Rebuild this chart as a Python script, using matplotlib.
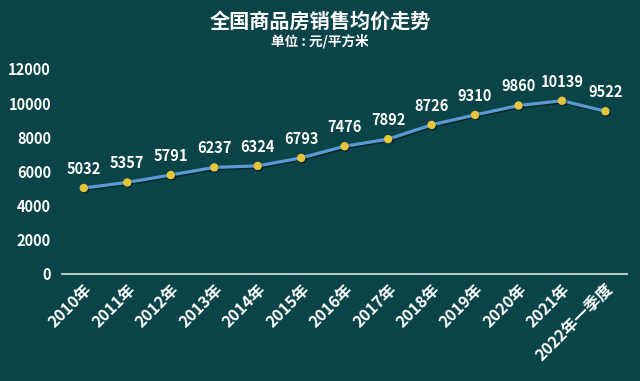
import matplotlib.pyplot as plt
import matplotlib.patheffects as pe

plt.rcParams['font.family'] = ['Noto Sans CJK SC', 'DejaVu Sans']

# data
years = ['2010年', '2011年', '2012年', '2013年', '2014年', '2015年', '2016年',
         '2017年', '2018年', '2019年', '2020年', '2021年', '2022年一季度']
prices = [5032, 5357, 5791, 6237, 6324, 6793, 7476, 7892, 8726, 9310, 9860, 10139, 9522]
yticks = [0, 2000, 4000, 6000, 8000, 10000, 12000]

bg = '#0b4448'

fig = plt.figure(figsize=(6.4, 3.81), dpi=100, facecolor=bg)
ax = fig.add_axes([0.097, 0.281, 0.883, 0.538], facecolor=bg)

x = list(range(len(years)))
shadow = [pe.SimpleLineShadow(offset=(1, -1), alpha=0.4), pe.Normal()]
ax.plot(x, prices, color='#5b9bd5', lw=2.3, zorder=2, path_effects=shadow)
ax.plot(x, prices, 'o', ms=5, color='#e6c53c', mec='#e6c53c', zorder=3,
        path_effects=shadow)

for xi, v in zip(x, prices):
    ax.annotate(str(v), (xi, v), xytext=(0, 8), textcoords='offset points',
                ha='center', va='bottom', color='white', fontsize=10.5,
                fontweight='bold')

ax.set_xlim(-0.5, len(years) - 0.5)
ax.set_ylim(0, 12000)
ax.set_yticks(yticks)
ax.set_yticklabels([str(t) for t in yticks], color='white', fontsize=10.5,
                   fontweight='bold')
ax.set_xticks(x)
ax.set_xticklabels(years, rotation=45, ha='right', rotation_mode='anchor',
                   color='white', fontsize=11.5, fontweight='bold')
ax.tick_params(axis='x', length=0, pad=5)
ax.tick_params(axis='y', length=0, pad=8)

for s in ['top', 'right', 'left']:
    ax.spines[s].set_visible(False)
ax.spines['bottom'].set_color('#c8d6d6')
ax.spines['bottom'].set_linewidth(1.3)

fig.text(0.5, 0.945, '全国商品房销售均价走势', ha='center', va='center',
         color='white', fontsize=14.5, fontweight='bold')
fig.text(0.5, 0.893, '单位 : 元/平方米', ha='center', va='center',
         color='white', fontsize=9.8, fontweight='bold')

fig.savefig('out.png', dpi=100, facecolor=bg)
